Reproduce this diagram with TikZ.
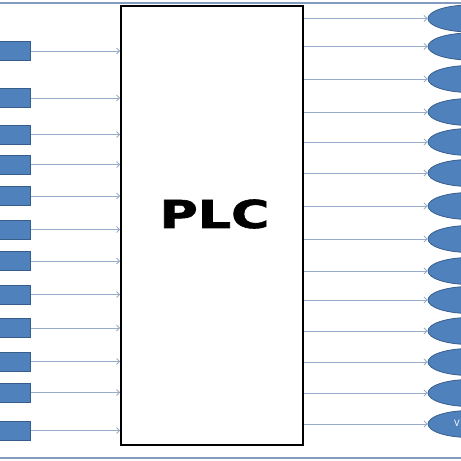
\documentclass[tikz,border=0pt]{standalone}
\usepackage{fontspec}
\setmainfont{Carlito}
\newfontfamily\plcfont[BoldFeatures={FakeBold=1.5}]{DejaVu Sans}
\usetikzlibrary{shapes.geometric,arrows.meta}

\definecolor{boxblue}{RGB}{79,129,189}
\definecolor{boxedge}{RGB}{56,93,138}
\definecolor{wirecol}{RGB}{150,172,200}
\definecolor{framecol}{RGB}{130,155,190}

\tikzset{
	inbox/.style={rectangle, fill=boxblue, draw=boxedge, line width=0.8pt, minimum width=50pt, minimum height=19pt, inner sep=0pt},
	outlamp/.style={ellipse, fill=boxblue, draw=boxedge, line width=0.8pt, minimum width=84pt, minimum height=27pt, inner sep=0pt},
	wire/.style={draw=wirecol, line width=0.9pt, -{Straight Barb[length=3pt,width=6pt]}},
}

\begin{document}
\begin{tikzpicture}[x=1pt, y=-1pt]
		\useasboundingbox (0,0) rectangle (461,461);
		\clip (0,0) rectangle (461,461);
	
		\draw[framecol, line width=1.5pt] (0,3) -- (461,3);
		\draw[framecol, line width=1.5pt] (0,458) -- (461,458);
	
		\node[draw, line width=1.6pt, minimum width=182pt, minimum height=439pt, inner sep=0pt] (plc) at (212,225.5) {};
		\node[inner sep=0pt] (plclabel) at (214.5,214) {\scalebox{1.36}[1]{\plcfont\bfseries\fontsize{38.4}{40}\selectfont PLC}};
	
		\foreach \y [count=\i] in {51, 98, 134.5, 164.5, 196, 229.5, 261, 294.5, 328, 361.5, 392.5, 430.5} {
			\node[inbox] (in\i) at (5.5,\y) {};
			\draw[wire] (in\i.east) -- (plc.west |- in\i.east);
		}
	
		\foreach \y [count=\i] in {18.5, 46.5, 79, 112, 142, 173, 206, 239, 271, 300, 331, 362, 393, 424} {
			\node[outlamp] (out\i) at (470,\y) {};
			\draw[wire] (plc.east |- out\i.west) -- (out\i.west);
		}
	
		\node[text=white, font=\normalsize, inner sep=0pt] (vtext) at (457,423) {V};
	\end{tikzpicture}
\end{document}
